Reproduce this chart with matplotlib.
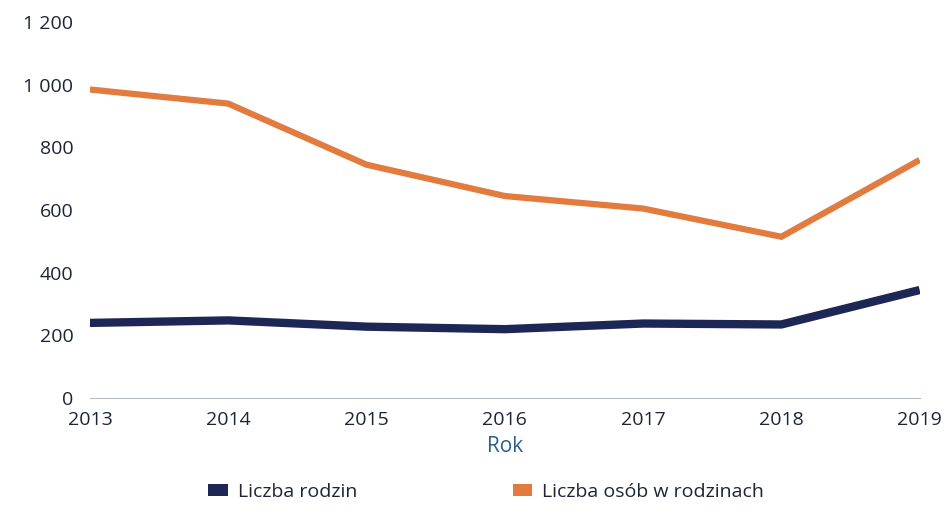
import matplotlib
matplotlib.use("Agg")
import matplotlib.pyplot as plt
from matplotlib.patches import Patch
from matplotlib.ticker import FuncFormatter

years = [2013, 2014, 2015, 2016, 2017, 2018, 2019]
liczba_rodzin = [240, 248, 228, 220, 238, 235, 345]
liczba_osob = [985, 940, 745, 645, 605, 515, 760]
y_ticks = [0, 200, 400, 600, 800, 1000, 1200]
x_label = "Rok"
series_names = ["Liczba rodzin", "Liczba osób w rodzinach"]

plt.rcParams['font.family'] = ['Open Sans', 'DejaVu Sans']
navy = "#1c2755"
orange = "#e27c3e"
text_col = "#1e2438"

fig = plt.figure(figsize=(9.53, 5.15), dpi=100)
ax = fig.add_axes([0.0944, 0.227, 0.8706, 0.73])

ax.plot(years, liczba_osob, color=orange, lw=4.5, solid_joinstyle='miter', solid_capstyle='butt')
ax.plot(years, liczba_rodzin, color=navy, lw=6, solid_joinstyle='miter', solid_capstyle='butt')

ax.set_xlim(years[0], years[-1])
ax.set_ylim(0, 1200)
ax.set_yticks(y_ticks)
ax.yaxis.set_major_formatter(FuncFormatter(lambda v, p: f"{int(v):,}".replace(",", " ")))
ax.set_xticks(years)

for s in ["top", "right", "left"]:
    ax.spines[s].set_visible(False)
ax.spines["bottom"].set_color("#b8bcc8")
ax.spines["bottom"].set_linestyle((0, (2, 1)))
ax.spines["bottom"].set_linewidth(0.8)

ax.tick_params(axis="both", length=0, labelsize=14, labelcolor=text_col)
ax.tick_params(axis="y", pad=12)
ax.tick_params(axis="x", pad=9)

ax.set_xlabel(x_label, color="#2b5d8f", fontsize=15, labelpad=5)

handles = [Patch(facecolor=navy, label=series_names[0]),
           Patch(facecolor=orange, label=series_names[1])]
leg = fig.legend(handles=handles, loc="center", bbox_to_anchor=(0.51, 0.045), ncol=2,
                 frameon=False, fontsize=14, columnspacing=8, handlelength=1.0,
                 handleheight=0.6, handletextpad=0.5)
for t in leg.get_texts():
    t.set_color(text_col)

fig.savefig("out.png", dpi=100, facecolor="white")
